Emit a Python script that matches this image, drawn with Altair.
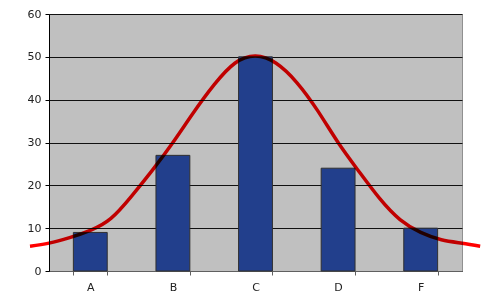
import altair as alt
import pandas as pd

# Data
grades = ["A", "B", "C", "D", "F"]
counts = [9, 27, 50, 24, 10]

# Points (x in category-index units, 0 = A ... 4 = F)
curve_pos = [-0.73, -0.5, -0.25, 0, 0.25, 0.5, 0.75, 1, 1.25, 1.5, 1.75, 2,
             2.25, 2.5, 2.75, 3, 3.25, 3.5, 3.75, 4, 4.25, 4.5, 4.72]
curve_val = [5.8, 6.5, 7.8, 9.5, 12.3, 17.5, 23.5, 30, 37, 43.5, 48.5, 50.2,
             48.5, 44, 37.5, 30, 23.3, 17, 12, 9, 7.3, 6.5, 5.8]

y_ticks = [0, 10, 20, 30, 40, 50, 60]

bars_df = pd.DataFrame({"grade": grades, "count": counts})
curve_df = pd.DataFrame({"pos": curve_pos, "val": curve_val})

y_scale = alt.Scale(domain=[0, 60], nice=False, zero=True)

bars = alt.Chart(bars_df).mark_bar(
    color="#223F8C", stroke="#303030", strokeWidth=1
).encode(
    x=alt.X("grade:N", sort=grades, title=None,
            scale=alt.Scale(paddingInner=0.59, paddingOuter=0.295),
            axis=alt.Axis(labelAngle=0, tickBand="extent", tickSize=4,
                          labelPadding=6, domainColor="#606060",
                          tickColor="#606060", labelColor="#222222",
                          grid=False)),
    y=alt.Y("count:Q", scale=y_scale, title=None,
            axis=alt.Axis(values=y_ticks, tickSize=4, labelPadding=4,
                          domainColor="#000000", tickColor="#000000",
                          gridColor="#111111", gridWidth=1,
                          labelColor="#222222")),
)

curve = alt.Chart(curve_df).mark_line(
    color="#FF0000", strokeWidth=3.5, interpolate="natural",
    blend="multiply", clip=False
).encode(
    x=alt.X("pos:Q", scale=alt.Scale(domain=[-0.5, 4.5], nice=False, zero=False),
            axis=None),
    y=alt.Y("val:Q", scale=y_scale),
)

chart = alt.layer(bars, curve).resolve_scale(x="independent").properties(
    width=413, height=257,
    autosize="none",
    padding={"left": 49, "top": 14, "right": 38, "bottom": 29},
).configure_view(
    fill="#C0C0C0", stroke="#909090", strokeWidth=1
).configure_axis(
    labelFont="DejaVu Sans", labelFontSize=11
)

chart.save("out.html", embed_options={"renderer": "svg", "actions": False})
